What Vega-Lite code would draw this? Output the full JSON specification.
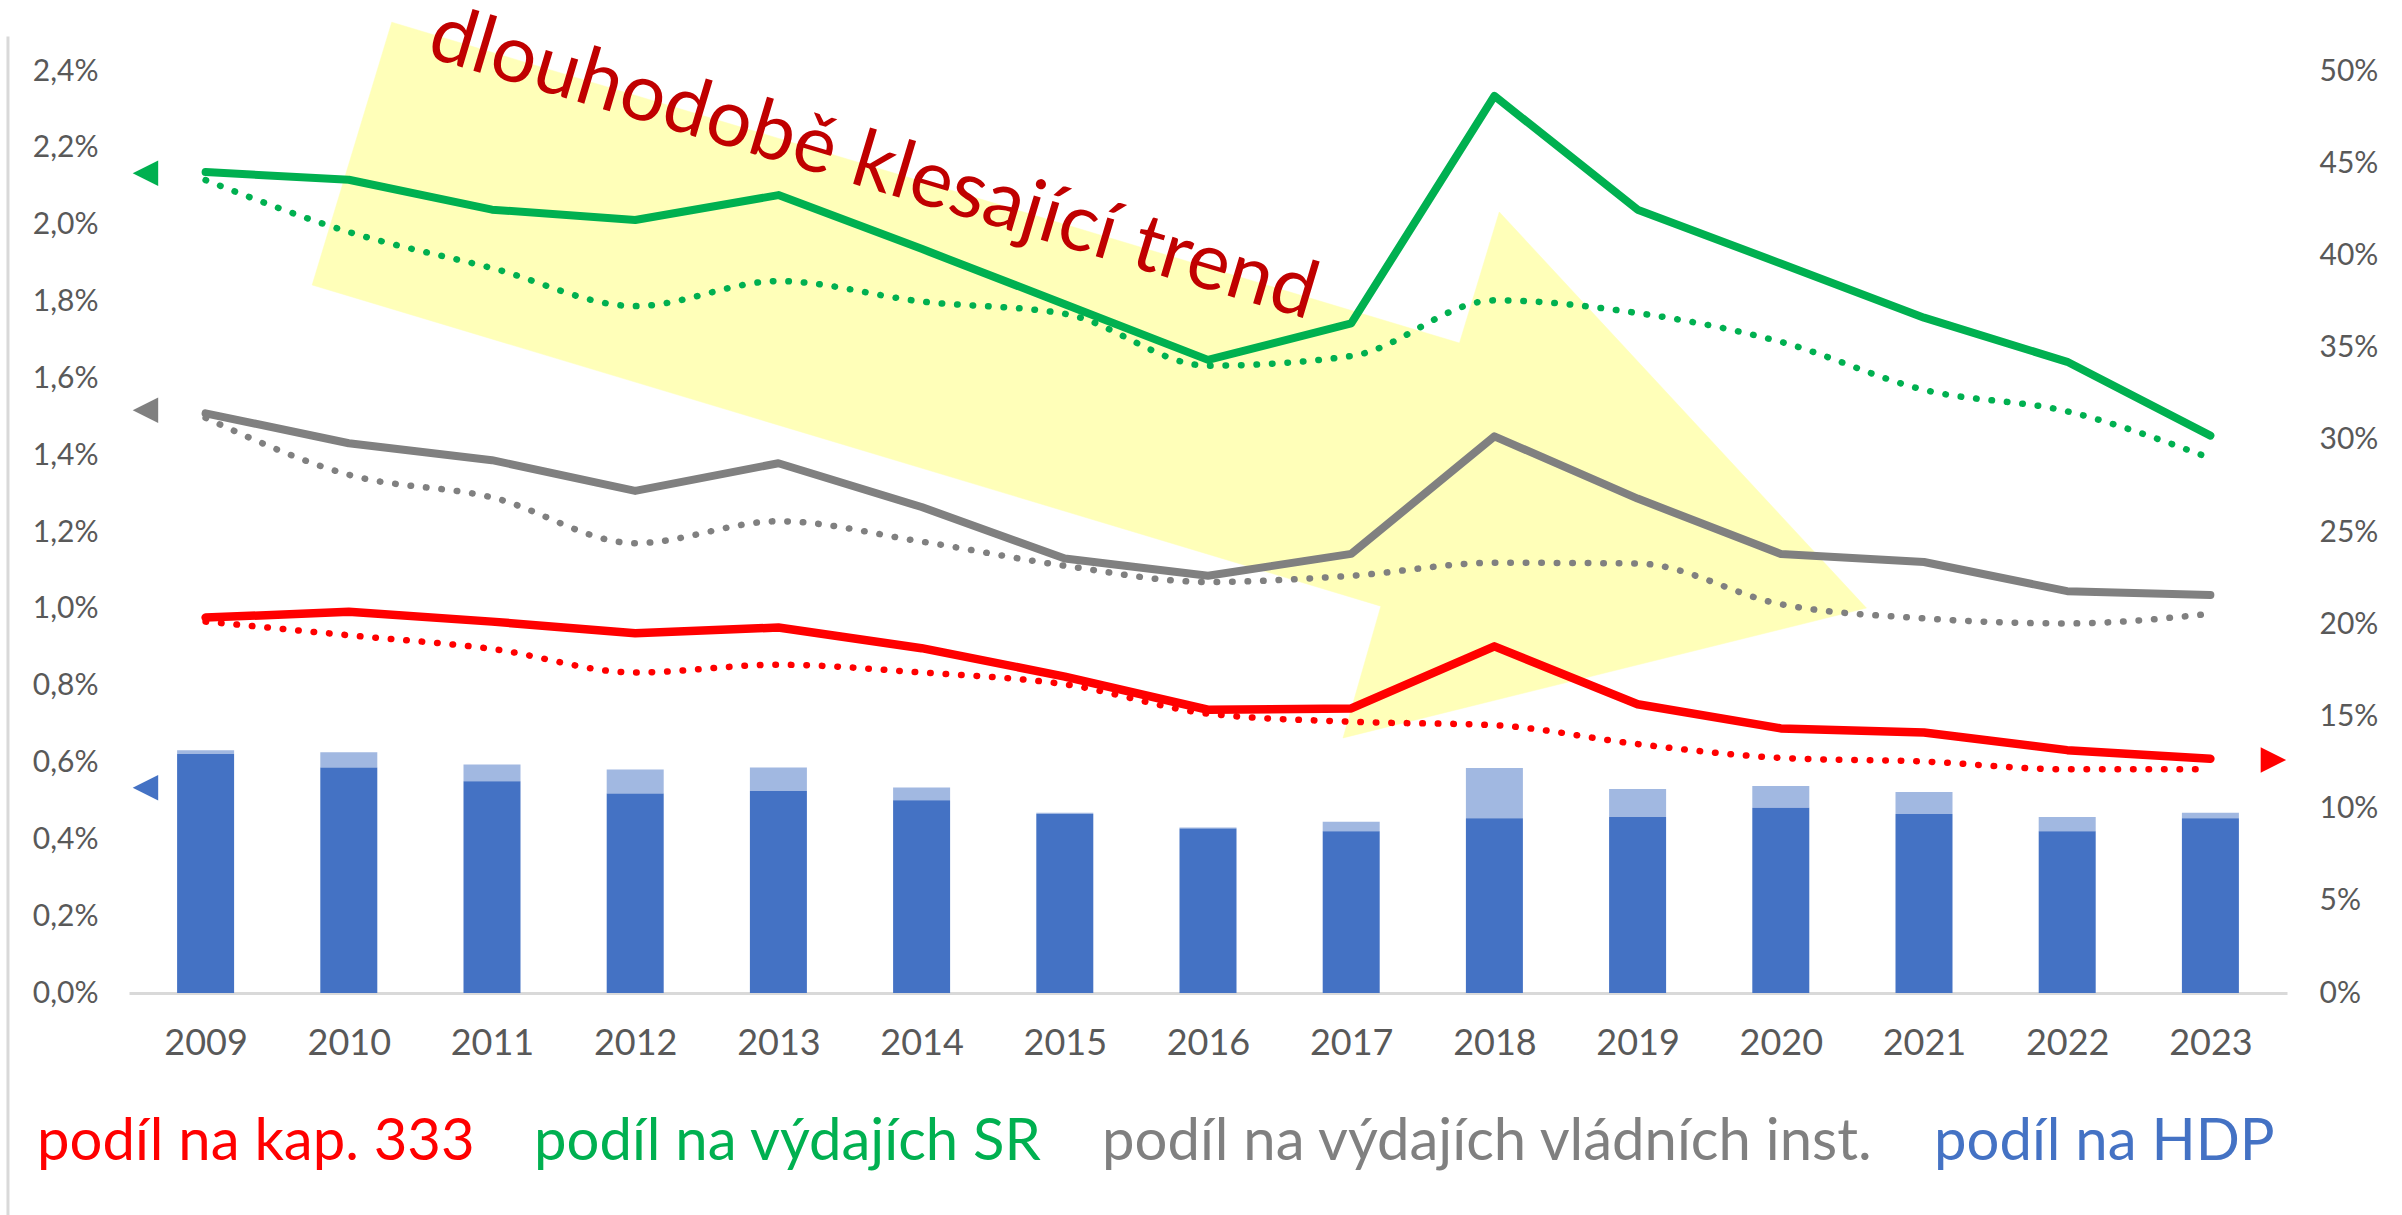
{
  "$schema": "https://vega.github.io/schema/vega-lite/v6.json",
  "width": 2158,
  "height": 922,
  "autosize": "none",
  "padding": {"left": 129, "top": 71, "right": 115, "bottom": 222},
  "background": "white",
  "config": {
    "view": {"stroke": null},
    "font": "Lato",
    "axis": {"labelFont": "Lato", "labelColor": "#595959", "grid": false, "ticks": false, "title": null}
  },
  "datasets": {
    "bars": [
      {"year": 2009, "solid": 0.622, "total": 0.632},
      {"year": 2010, "solid": 0.587, "total": 0.627},
      {"year": 2011, "solid": 0.551, "total": 0.595},
      {"year": 2012, "solid": 0.519, "total": 0.582},
      {"year": 2013, "solid": 0.526, "total": 0.587},
      {"year": 2014, "solid": 0.502, "total": 0.535},
      {"year": 2015, "solid": 0.466, "total": 0.469},
      {"year": 2016, "solid": 0.428, "total": 0.431},
      {"year": 2017, "solid": 0.421, "total": 0.446},
      {"year": 2018, "solid": 0.455, "total": 0.586},
      {"year": 2019, "solid": 0.458, "total": 0.531},
      {"year": 2020, "solid": 0.482, "total": 0.539},
      {"year": 2021, "solid": 0.466, "total": 0.523},
      {"year": 2022, "solid": 0.421, "total": 0.458},
      {"year": 2023, "solid": 0.455, "total": 0.469}
    ],
    "leftLines": [
      {"year": 2009, "series": "podíl na výdajích SR", "kind": "solid", "value": 2.137},
      {"year": 2010, "series": "podíl na výdajích SR", "kind": "solid", "value": 2.117},
      {"year": 2011, "series": "podíl na výdajích SR", "kind": "solid", "value": 2.039},
      {"year": 2012, "series": "podíl na výdajích SR", "kind": "solid", "value": 2.012},
      {"year": 2013, "series": "podíl na výdajích SR", "kind": "solid", "value": 2.077},
      {"year": 2014, "series": "podíl na výdajích SR", "kind": "solid", "value": 1.937},
      {"year": 2015, "series": "podíl na výdajích SR", "kind": "solid", "value": 1.793},
      {"year": 2016, "series": "podíl na výdajích SR", "kind": "solid", "value": 1.648},
      {"year": 2017, "series": "podíl na výdajích SR", "kind": "solid", "value": 1.743},
      {"year": 2018, "series": "podíl na výdajích SR", "kind": "solid", "value": 2.335},
      {"year": 2019, "series": "podíl na výdajích SR", "kind": "solid", "value": 2.039},
      {"year": 2020, "series": "podíl na výdajích SR", "kind": "solid", "value": 1.899},
      {"year": 2021, "series": "podíl na výdajích SR", "kind": "solid", "value": 1.758},
      {"year": 2022, "series": "podíl na výdajích SR", "kind": "solid", "value": 1.643},
      {"year": 2023, "series": "podíl na výdajích SR", "kind": "solid", "value": 1.451},
      {"year": 2009, "series": "podíl na výdajích SR", "kind": "dotted", "value": 2.116},
      {"year": 2010, "series": "podíl na výdajích SR", "kind": "dotted", "value": 1.981},
      {"year": 2011, "series": "podíl na výdajích SR", "kind": "dotted", "value": 1.887},
      {"year": 2012, "series": "podíl na výdajích SR", "kind": "dotted", "value": 1.788},
      {"year": 2013, "series": "podíl na výdajích SR", "kind": "dotted", "value": 1.853},
      {"year": 2014, "series": "podíl na výdajích SR", "kind": "dotted", "value": 1.800},
      {"year": 2015, "series": "podíl na výdajích SR", "kind": "dotted", "value": 1.768},
      {"year": 2016, "series": "podíl na výdajích SR", "kind": "dotted", "value": 1.633},
      {"year": 2017, "series": "podíl na výdajích SR", "kind": "dotted", "value": 1.658},
      {"year": 2018, "series": "podíl na výdajích SR", "kind": "dotted", "value": 1.803},
      {"year": 2019, "series": "podíl na výdajích SR", "kind": "dotted", "value": 1.770},
      {"year": 2020, "series": "podíl na výdajích SR", "kind": "dotted", "value": 1.695},
      {"year": 2021, "series": "podíl na výdajích SR", "kind": "dotted", "value": 1.570},
      {"year": 2022, "series": "podíl na výdajích SR", "kind": "dotted", "value": 1.514},
      {"year": 2023, "series": "podíl na výdajích SR", "kind": "dotted", "value": 1.392},
      {"year": 2009, "series": "podíl na výdajích vládních inst.", "kind": "solid", "value": 1.509},
      {"year": 2010, "series": "podíl na výdajích vládních inst.", "kind": "solid", "value": 1.431},
      {"year": 2011, "series": "podíl na výdajích vládních inst.", "kind": "solid", "value": 1.387},
      {"year": 2012, "series": "podíl na výdajích vládních inst.", "kind": "solid", "value": 1.307},
      {"year": 2013, "series": "podíl na výdajích vládních inst.", "kind": "solid", "value": 1.379},
      {"year": 2014, "series": "podíl na výdajích vládních inst.", "kind": "solid", "value": 1.265},
      {"year": 2015, "series": "podíl na výdajích vládních inst.", "kind": "solid", "value": 1.131},
      {"year": 2016, "series": "podíl na výdajích vládních inst.", "kind": "solid", "value": 1.086},
      {"year": 2017, "series": "podíl na výdajích vládních inst.", "kind": "solid", "value": 1.143},
      {"year": 2018, "series": "podíl na výdajích vládních inst.", "kind": "solid", "value": 1.449},
      {"year": 2019, "series": "podíl na výdajích vládních inst.", "kind": "solid", "value": 1.287},
      {"year": 2020, "series": "podíl na výdajích vládních inst.", "kind": "solid", "value": 1.143},
      {"year": 2021, "series": "podíl na výdajích vládních inst.", "kind": "solid", "value": 1.122},
      {"year": 2022, "series": "podíl na výdajích vládních inst.", "kind": "solid", "value": 1.046},
      {"year": 2023, "series": "podíl na výdajích vládních inst.", "kind": "solid", "value": 1.036},
      {"year": 2009, "series": "podíl na výdajích vládních inst.", "kind": "dotted", "value": 1.497},
      {"year": 2010, "series": "podíl na výdajích vládních inst.", "kind": "dotted", "value": 1.349},
      {"year": 2011, "series": "podíl na výdajích vládních inst.", "kind": "dotted", "value": 1.290},
      {"year": 2012, "series": "podíl na výdajích vládních inst.", "kind": "dotted", "value": 1.171},
      {"year": 2013, "series": "podíl na výdajích vládních inst.", "kind": "dotted", "value": 1.228},
      {"year": 2014, "series": "podíl na výdajích vládních inst.", "kind": "dotted", "value": 1.175},
      {"year": 2015, "series": "podíl na výdajích vládních inst.", "kind": "dotted", "value": 1.112},
      {"year": 2016, "series": "podíl na výdajích vládních inst.", "kind": "dotted", "value": 1.070},
      {"year": 2017, "series": "podíl na výdajích vládních inst.", "kind": "dotted", "value": 1.086},
      {"year": 2018, "series": "podíl na výdajích vládních inst.", "kind": "dotted", "value": 1.120},
      {"year": 2019, "series": "podíl na výdajích vládních inst.", "kind": "dotted", "value": 1.118},
      {"year": 2020, "series": "podíl na výdajích vládních inst.", "kind": "dotted", "value": 1.012},
      {"year": 2021, "series": "podíl na výdajích vládních inst.", "kind": "dotted", "value": 0.975},
      {"year": 2022, "series": "podíl na výdajích vládních inst.", "kind": "dotted", "value": 0.962},
      {"year": 2023, "series": "podíl na výdajích vládních inst.", "kind": "dotted", "value": 0.987}
    ],
    "redLines": [
      {"year": 2009, "series": "podíl na kap. 333", "kind": "solid", "value": 20.36},
      {"year": 2010, "series": "podíl na kap. 333", "kind": "solid", "value": 20.67},
      {"year": 2011, "series": "podíl na kap. 333", "kind": "solid", "value": 20.14},
      {"year": 2012, "series": "podíl na kap. 333", "kind": "solid", "value": 19.51},
      {"year": 2013, "series": "podíl na kap. 333", "kind": "solid", "value": 19.82},
      {"year": 2014, "series": "podíl na kap. 333", "kind": "solid", "value": 18.70},
      {"year": 2015, "series": "podíl na kap. 333", "kind": "solid", "value": 17.16},
      {"year": 2016, "series": "podíl na kap. 333", "kind": "solid", "value": 15.36},
      {"year": 2017, "series": "podíl na kap. 333", "kind": "solid", "value": 15.43},
      {"year": 2018, "series": "podíl na kap. 333", "kind": "solid", "value": 18.80},
      {"year": 2019, "series": "podíl na kap. 333", "kind": "solid", "value": 15.66},
      {"year": 2020, "series": "podíl na kap. 333", "kind": "solid", "value": 14.35},
      {"year": 2021, "series": "podíl na kap. 333", "kind": "solid", "value": 14.13},
      {"year": 2022, "series": "podíl na kap. 333", "kind": "solid", "value": 13.17},
      {"year": 2023, "series": "podíl na kap. 333", "kind": "solid", "value": 12.70},
      {"year": 2009, "series": "podíl na kap. 333", "kind": "dotted", "value": 20.14},
      {"year": 2010, "series": "podíl na kap. 333", "kind": "dotted", "value": 19.40},
      {"year": 2011, "series": "podíl na kap. 333", "kind": "dotted", "value": 18.66},
      {"year": 2012, "series": "podíl na kap. 333", "kind": "dotted", "value": 17.38},
      {"year": 2013, "series": "podíl na kap. 333", "kind": "dotted", "value": 17.80},
      {"year": 2014, "series": "podíl na kap. 333", "kind": "dotted", "value": 17.38},
      {"year": 2015, "series": "podíl na kap. 333", "kind": "dotted", "value": 16.74},
      {"year": 2016, "series": "podíl na kap. 333", "kind": "dotted", "value": 15.15},
      {"year": 2017, "series": "podíl na kap. 333", "kind": "dotted", "value": 14.71},
      {"year": 2018, "series": "podíl na kap. 333", "kind": "dotted", "value": 14.52},
      {"year": 2019, "series": "podíl na kap. 333", "kind": "dotted", "value": 13.50},
      {"year": 2020, "series": "podíl na kap. 333", "kind": "dotted", "value": 12.75},
      {"year": 2021, "series": "podíl na kap. 333", "kind": "dotted", "value": 12.55},
      {"year": 2022, "series": "podíl na kap. 333", "kind": "dotted", "value": 12.13},
      {"year": 2023, "series": "podíl na kap. 333", "kind": "dotted", "value": 12.13}
    ],
    "arrow": [
      {"i": 1, "x": 2010.30, "y": 2.527},
      {"i": 2, "x": 2017.756, "y": 1.692},
      {"i": 3, "x": 2018.034, "y": 2.033},
      {"i": 4, "x": 2020.598, "y": 1.002},
      {"i": 5, "x": 2016.943, "y": 0.664},
      {"i": 6, "x": 2017.207, "y": 1.007},
      {"i": 7, "x": 2009.744, "y": 1.843}
    ],
    "leftMarkers": [
      {"series": "podíl na výdajích SR", "x": 2008.58, "y": 2.134},
      {"series": "podíl na výdajích vládních inst.", "x": 2008.58, "y": 1.517},
      {"series": "podíl na HDP", "x": 2008.58, "y": 0.534}
    ],
    "rightMarkers": [
      {"series": "podíl na kap. 333", "x": 2023.44, "y": 12.64}
    ],
    "note": [
      {"label": "dlouhodobě klesající trend", "x": 2013.615, "y": 2.096}
    ],
    "frame": [
      {"x": 2007.62, "y": 2.49, "y2": -0.578}
    ]
  },
  "layer": [
    {
      "layer": [
        {
          "data": {"name": "frame"},
          "mark": {"type": "rule", "color": "#D9D9D9", "strokeWidth": 3},
          "encoding": {
            "x": {"field": "x", "type": "quantitative", "scale": {"domain": [2008.5, 2023.5], "nice": false, "zero": false}},
            "y": {"field": "y", "type": "quantitative", "scale": {"domain": [0, 2.4], "nice": false, "zero": false}},
            "y2": {"field": "y2"}
          }
        },
        {
          "data": {"name": "arrow"},
          "mark": {"type": "line", "fill": "#FFFFB9", "stroke": "#FFFFB9", "strokeWidth": 0.5, "interpolate": "linear-closed"},
          "encoding": {
            "x": {"field": "x", "type": "quantitative", "scale": {"domain": [2008.5, 2023.5], "nice": false, "zero": false}},
            "y": {"field": "y", "type": "quantitative", "scale": {"domain": [0, 2.4], "nice": false, "zero": false}},
            "order": {"field": "i", "type": "quantitative"}
          }
        },
        {
          "data": {"name": "bars"},
          "mark": {"type": "bar", "size": 57, "fill": "#4472C4"},
          "encoding": {
            "x": {
              "field": "year", "type": "quantitative",
              "scale": {"domain": [2008.5, 2023.5], "nice": false, "zero": false},
              "axis": {
                "values": [2009, 2010, 2011, 2012, 2013, 2014, 2015, 2016, 2017, 2018, 2019, 2020, 2021, 2022, 2023],
                "format": "d", "labelFontSize": 36, "labelPadding": 33,
                "domain": true, "domainColor": "#D9D9D9", "domainWidth": 3, "labelFlush": false
              }
            },
            "y": {
              "field": "solid", "type": "quantitative",
              "scale": {"domain": [0, 2.4], "nice": false, "zero": false},
              "axis": {
                "orient": "left",
                "values": [0, 0.2, 0.4, 0.6, 0.8, 1.0, 1.2, 1.4, 1.6, 1.8, 2.0, 2.2, 2.4],
                "labelExpr": "replace(format(datum.value, '.1f'), '.', ',') + '%'",
                "labelFontSize": 30, "labelPadding": 31, "domain": false
              }
            }
          }
        },
        {
          "data": {"name": "bars"},
          "mark": {"type": "bar", "size": 57, "fill": "#4472C4", "fillOpacity": 0.5},
          "encoding": {
            "x": {"field": "year", "type": "quantitative", "scale": {"domain": [2008.5, 2023.5], "nice": false, "zero": false}},
            "y": {"field": "solid", "type": "quantitative", "scale": {"domain": [0, 2.4], "nice": false, "zero": false}},
            "y2": {"field": "total"}
          }
        },
        {
          "data": {"name": "leftLines"},
          "transform": [{"filter": "datum.kind === 'dotted'"}],
          "mark": {"type": "line", "strokeWidth": 6.5, "strokeDash": [0.5, 15], "strokeCap": "round", "interpolate": "monotone"},
          "encoding": {
            "x": {"field": "year", "type": "quantitative", "scale": {"domain": [2008.5, 2023.5], "nice": false, "zero": false}},
            "y": {"field": "value", "type": "quantitative", "scale": {"domain": [0, 2.4], "nice": false, "zero": false}},
            "color": {
              "field": "series", "type": "nominal",
              "scale": {
                "domain": ["podíl na kap. 333", "podíl na výdajích SR", "podíl na výdajích vládních inst.", "podíl na HDP"],
                "range": ["#FF0000", "#00B050", "#808080", "#4472C4"]
              },
              "legend": {
                "orient": "none", "legendX": -150, "legendY": 1043, "direction": "horizontal", "columns": 4,
                "title": null, "labelFont": "Lato", "labelFontSize": 58, "labelLimit": 0,
                "symbolSize": 0, "symbolOpacity": 0, "symbolStrokeWidth": 0, "labelOffset": 0, "columnPadding": 1,
                "values": ["podíl na kap. 333", "podíl na výdajích SR", "podíl na výdajích vládních inst.", "podíl na HDP"],
                "encode": {"labels": {"update": {"fill": {"scale": "color", "field": "value"}}}}
              }
            }
          }
        },
        {
          "data": {"name": "leftLines"},
          "transform": [{"filter": "datum.kind === 'solid'"}],
          "mark": {"type": "line", "strokeWidth": 8, "strokeCap": "round", "strokeJoin": "round"},
          "encoding": {
            "x": {"field": "year", "type": "quantitative", "scale": {"domain": [2008.5, 2023.5], "nice": false, "zero": false}},
            "y": {"field": "value", "type": "quantitative", "scale": {"domain": [0, 2.4], "nice": false, "zero": false}},
            "color": {"field": "series", "type": "nominal"}
          }
        },
        {
          "data": {"name": "leftMarkers"},
          "mark": {"type": "point", "shape": "M1,-1L-1,0L1,1Z", "size": 650, "filled": true, "opacity": 1},
          "encoding": {
            "x": {"field": "x", "type": "quantitative", "scale": {"domain": [2008.5, 2023.5], "nice": false, "zero": false}},
            "y": {"field": "y", "type": "quantitative", "scale": {"domain": [0, 2.4], "nice": false, "zero": false}},
            "color": {"field": "series", "type": "nominal"}
          }
        },
        {
          "data": {"name": "note"},
          "mark": {"type": "text", "font": "Lato", "fontSize": 80, "color": "#C00000", "angle": 16.6, "align": "center", "baseline": "alphabetic"},
          "encoding": {
            "x": {"field": "x", "type": "quantitative", "scale": {"domain": [2008.5, 2023.5], "nice": false, "zero": false}},
            "y": {"field": "y", "type": "quantitative", "scale": {"domain": [0, 2.4], "nice": false, "zero": false}},
            "text": {"field": "label"}
          }
        }
      ]
    },
    {
      "layer": [
        {
          "data": {"name": "redLines"},
          "transform": [{"filter": "datum.kind === 'dotted'"}],
          "mark": {"type": "line", "strokeWidth": 6.5, "strokeDash": [0.5, 15], "strokeCap": "round", "interpolate": "monotone"},
          "encoding": {
            "x": {"field": "year", "type": "quantitative", "scale": {"domain": [2008.5, 2023.5], "nice": false, "zero": false}},
            "y": {
              "field": "value", "type": "quantitative",
              "scale": {"domain": [0, 50], "nice": false, "zero": false},
              "axis": {
                "orient": "right",
                "values": [0, 5, 10, 15, 20, 25, 30, 35, 40, 45, 50],
                "labelExpr": "datum.value + '%'",
                "labelFontSize": 30, "labelPadding": 32, "domain": false
              }
            },
            "color": {"field": "series", "type": "nominal"}
          }
        },
        {
          "data": {"name": "redLines"},
          "transform": [{"filter": "datum.kind === 'solid'"}],
          "mark": {"type": "line", "strokeWidth": 8.5, "strokeCap": "round", "strokeJoin": "round"},
          "encoding": {
            "x": {"field": "year", "type": "quantitative", "scale": {"domain": [2008.5, 2023.5], "nice": false, "zero": false}},
            "y": {"field": "value", "type": "quantitative", "scale": {"domain": [0, 50], "nice": false, "zero": false}},
            "color": {"field": "series", "type": "nominal"}
          }
        },
        {
          "data": {"name": "rightMarkers"},
          "mark": {"type": "point", "shape": "M-1,-1L1,0L-1,1Z", "size": 650, "filled": true, "opacity": 1},
          "encoding": {
            "x": {"field": "x", "type": "quantitative", "scale": {"domain": [2008.5, 2023.5], "nice": false, "zero": false}},
            "y": {"field": "y", "type": "quantitative", "scale": {"domain": [0, 50], "nice": false, "zero": false}},
            "color": {"field": "series", "type": "nominal"}
          }
        }
      ]
    }
  ],
  "resolve": {"scale": {"y": "independent"}, "axis": {"y": "independent"}}
}
